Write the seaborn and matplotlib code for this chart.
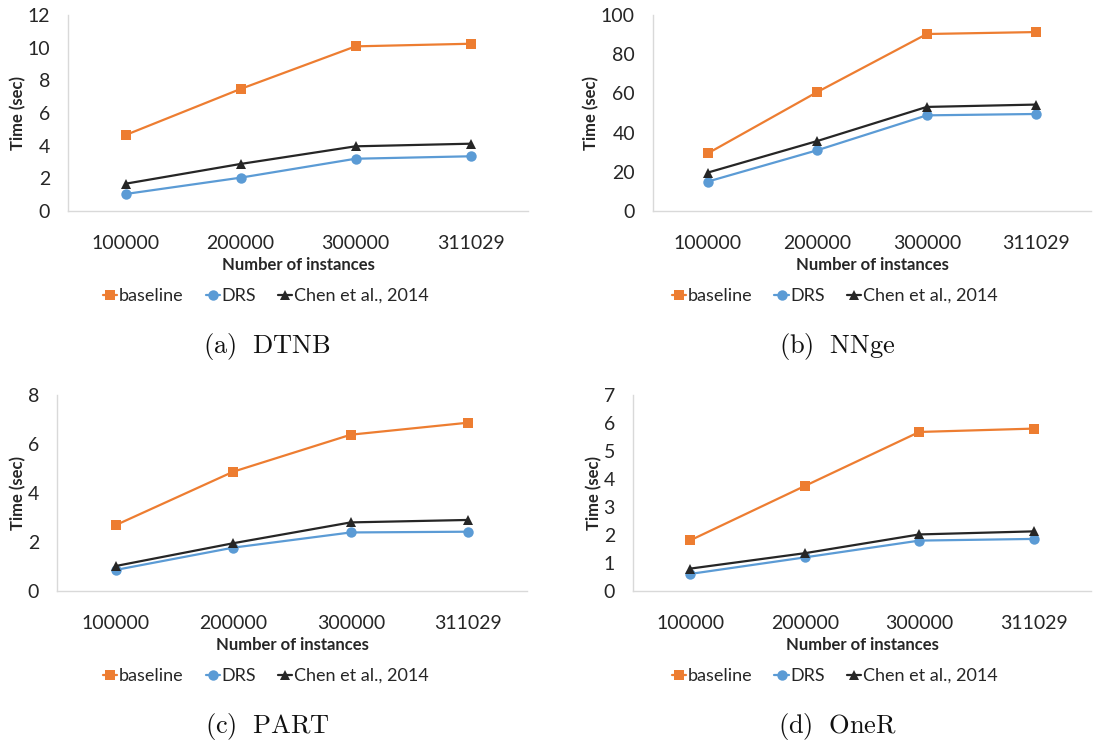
import seaborn as sns
import matplotlib.pyplot as plt
import pandas as pd

# data (time in seconds)
instances = ["100000", "200000", "300000", "311029"]
methods = ["baseline", "DRS", "Chen et al., 2014"]

dtnb_baseline = [4.65, 7.47, 10.08, 10.24]
dtnb_drs = [1.04, 2.04, 3.2, 3.35]
dtnb_chen = [1.67, 2.88, 3.96, 4.12]

nnge_baseline = [29.4, 60.7, 90.3, 91.3]
nnge_drs = [15.0, 31.0, 48.8, 49.5]
nnge_chen = [19.6, 35.7, 53.1, 54.3]

part_baseline = [2.69, 4.87, 6.38, 6.87]
part_drs = [0.86, 1.77, 2.39, 2.42]
part_chen = [1.02, 1.95, 2.80, 2.90]

oner_baseline = [1.81, 3.75, 5.68, 5.80]
oner_drs = [0.61, 1.20, 1.80, 1.86]
oner_chen = [0.80, 1.35, 2.02, 2.13]

captions = [r"$\mathrm{(a)\ \ DTNB}$", r"$\mathrm{(b)\ \ NNge}$",
            r"$\mathrm{(c)\ \ PART}$", r"$\mathrm{(d)\ \ OneR}$"]
ymax = [12, 100, 8, 7]
ystep = [2, 20, 2, 1]

colors = {"baseline": "#ED7D31", "DRS": "#5B9BD5", "Chen et al., 2014": "#262626"}
markers = {"baseline": "s", "DRS": "o", "Chen et al., 2014": "^"}


def make_df(b, d, c):
    rows = []
    for m, vals in zip(methods, [b, d, c]):
        for x, v in zip(instances, vals):
            rows.append({"instances": x, "method": m, "time": v})
    return pd.DataFrame(rows)


frames = [make_df(dtnb_baseline, dtnb_drs, dtnb_chen),
          make_df(nnge_baseline, nnge_drs, nnge_chen),
          make_df(part_baseline, part_drs, part_chen),
          make_df(oner_baseline, oner_drs, oner_chen)]

sns.set_style("white")
plt.rcParams["font.family"] = ["Lato", "DejaVu Sans"]
plt.rcParams["mathtext.fontset"] = "cm"

fig = plt.figure(figsize=(11.13, 7.42), dpi=100)
W, H = 1113, 742
# axes boxes in pixels: left, top, right, bottom
boxes = [(68, 15, 528, 211), (653, 15, 1091, 211),
         (57, 395, 527, 591), (633, 395, 1091, 591)]
legend_pos = [(266, 296), (835, 296), (266, 676), (835, 676)]
caption_pos = [(267, 347), (837, 347), (267, 727), (837, 727)]

for i, df in enumerate(frames):
    l, t, r, b = boxes[i]
    ax = fig.add_axes([l / W, 1 - b / H, (r - l) / W, (b - t) / H])
    sns.lineplot(data=df, x="instances", y="time", hue="method", style="method",
                 markers=markers, dashes=False, palette=colors, linewidth=1.6,
                 markersize=7.5, markeredgewidth=0, ax=ax, sort=False)
    ax.set_xlim(-0.5, 3.5)
    ax.set_ylim(0, ymax[i])
    ax.set_yticks(range(0, ymax[i] + 1, ystep[i]))
    ax.tick_params(axis="both", length=0, labelsize=14, labelcolor="#262626")
    ax.tick_params(axis="x", pad=17)
    ax.tick_params(axis="y", pad=13)
    for s in ["top", "right"]:
        ax.spines[s].set_visible(False)
    for s in ["left", "bottom"]:
        ax.spines[s].set_color("#D9D9D9")
        ax.spines[s].set_linewidth(1.0)
    ax.set_xlabel("Number of instances", fontsize=12, fontweight="bold",
                  color="#262626", labelpad=4)
    ax.set_ylabel("Time (sec)", fontsize=12, fontweight="bold", color="#262626",
                  labelpad=1)
    ax.get_legend().remove()
    h, lab = ax.get_legend_handles_labels()
    lx, ly = legend_pos[i]
    fig.legend(h, lab, loc="center", bbox_to_anchor=(lx / W, 1 - ly / H),
               ncol=3, frameon=False, fontsize=13, handlelength=0.8,
               handletextpad=0.1, columnspacing=1.2, labelcolor="#262626")
    cx, cy = caption_pos[i]
    fig.text(cx / W, 1 - cy / H, captions[i], ha="center", va="center",
             fontsize=19, color="#111111")

fig.savefig("out.png", dpi=100)
